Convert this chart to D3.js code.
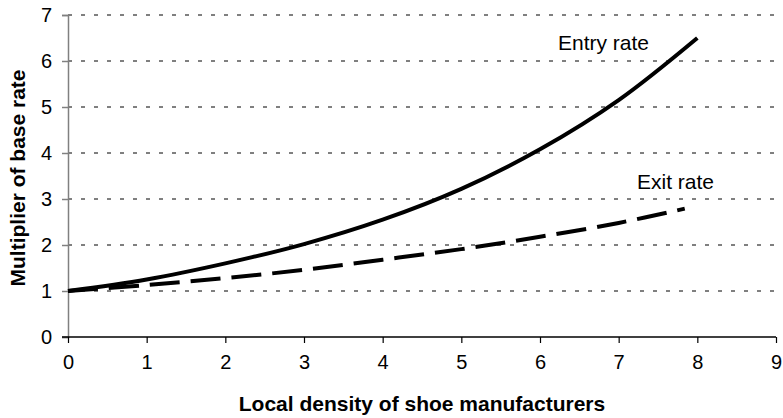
<!DOCTYPE html>
<html>
<head>
<meta charset="utf-8">
<script src="https://cdn.jsdelivr.net/npm/d3@7"></script>
<style>
  body { margin: 0; background: #fff; }
  text { font-family: "Liberation Sans", Arial, sans-serif; }
</style>
</head>
<body>
<svg id="chart" width="783" height="418"></svg>
<script>
// values
const entryX = [0, 1, 2, 3, 4, 5, 6, 7, 8];
const entryY = [1, 1.25, 1.6, 2.02, 2.55, 3.22, 4.08, 5.15, 6.5];
const exitX = [0, 1, 2, 3, 4, 5, 6, 7, 7.84];
const exitY = [1, 1.13, 1.28, 1.46, 1.68, 1.91, 2.18, 2.48, 2.79];
const xTicks = [0, 1, 2, 3, 4, 5, 6, 7, 8, 9];
const yTicks = [0, 1, 2, 3, 4, 5, 6, 7];

var margin = {left: 68, top: 15, right: 7, bottom: 81};
var W = 783, H = 418;

const svg = d3.select('#chart');
const x = d3.scaleLinear().domain([0, 9]).range([margin.left, W - margin.right]);
const y = d3.scaleLinear().domain([0, 7]).range([H - margin.bottom, margin.top]);

// dotted gridlines
svg.append('g')
    .selectAll('line')
    .data(yTicks.filter(d => d > 0))
    .enter().append('line')
    .attr('x1', x(0)).attr('x2', x(9))
    .attr('y1', d => y(d)).attr('y2', d => y(d))
    .style('stroke', '#000')
    .style('stroke-width', 1)
    .style('stroke-dasharray', '4,9');

// y axis
const yAxis = svg.append('g')
    .attr('transform', `translate(${x(0)},0)`)
    .call(d3.axisLeft(y).tickValues(yTicks).tickFormat(d3.format('d')).tickSize(6).tickPadding(10));
yAxis.select('.domain').attr('stroke', '#808080').attr('stroke-width', 1.5);
yAxis.selectAll('.tick line').attr('stroke', '#808080').attr('stroke-width', 1.5);
yAxis.selectAll('text').style('font-size', '20px').attr('fill', '#000');

// x axis
const xAxis = svg.append('g')
    .attr('transform', `translate(0,${y(0)})`)
    .call(d3.axisBottom(x).tickValues(xTicks).tickFormat(d3.format('d')).tickSize(6).tickPadding(12));
xAxis.select('.domain').attr('stroke', '#000').attr('stroke-width', 1.5)
    .attr('d', `M${x(0) - 6},0H${x(9)}`);
xAxis.selectAll('.tick line').attr('stroke', '#000').attr('stroke-width', 1.2);
xAxis.selectAll('text').style('font-size', '20px').attr('fill', '#000');

// curves
const line = d3.line()
    .x(d => x(d[0]))
    .y(d => y(d[1]))
    .curve(d3.curveCatmullRom);

svg.append('path')
    .datum(d3.zip(entryX, entryY))
    .attr('d', line)
    .style('fill', 'none')
    .style('stroke', '#000')
    .style('stroke-width', 4);

svg.append('path')
    .datum(d3.zip(exitX, exitY))
    .attr('d', line)
    .style('fill', 'none')
    .style('stroke', '#000')
    .style('stroke-width', 4)
    .style('stroke-dasharray', '30,11');

// labels
svg.append('text')
    .attr('x', 558).attr('y', 50)
    .style('font-size', '21px')
    .text('Entry rate');
svg.append('text')
    .attr('x', 637).attr('y', 189)
    .style('font-size', '21px')
    .text('Exit rate');

// axis titles
svg.append('text')
    .attr('x', 422)
    .attr('y', 411)
    .attr('text-anchor', 'middle')
    .style('font-size', '21px')
    .style('font-weight', 'bold')
    .text('Local density of shoe manufacturers');

svg.append('text')
    .attr('transform', `translate(25,${(y(0) + y(7)) / 2 + 2}) rotate(-90)`)
    .attr('text-anchor', 'middle')
    .style('font-size', '21px')
    .style('font-weight', 'bold')
    .text('Multiplier of base rate');
</script>
</body>
</html>
